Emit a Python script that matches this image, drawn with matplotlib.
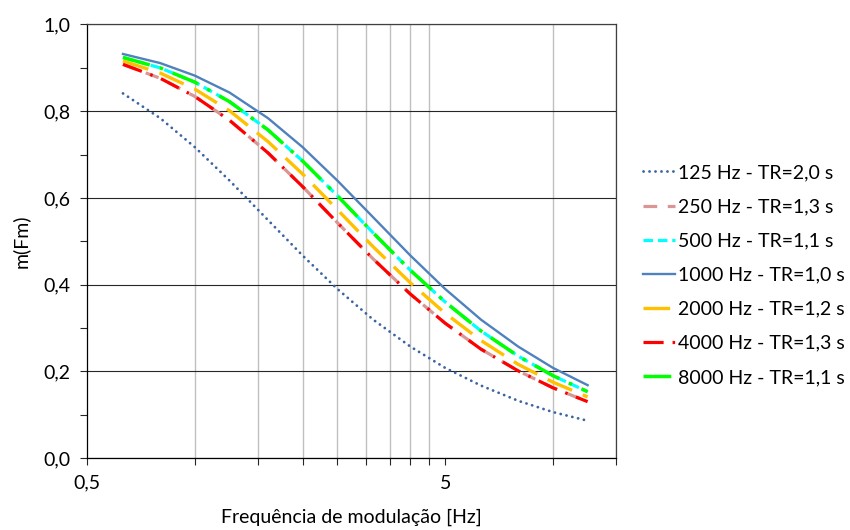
import numpy as np
import matplotlib
matplotlib.use("Agg")
import matplotlib.pyplot as plt
from matplotlib.ticker import FixedLocator, NullFormatter

plt.rcParams['font.family'] = ['Lato', 'DejaVu Sans']

# 1/3 octave modulation frequencies [Hz]
freq = [0.63, 0.8, 1.0, 1.25, 1.6, 2.0, 2.5, 3.15, 4.0, 5.0, 6.3, 8.0, 10.0, 12.5]

# m(Fm)
m_125 = [0.841, 0.784, 0.717, 0.640, 0.549, 0.467, 0.390, 0.319, 0.257, 0.208, 0.167, 0.132, 0.106, 0.086]
m_250 = [0.908, 0.876, 0.834, 0.779, 0.704, 0.626, 0.543, 0.459, 0.378, 0.311, 0.251, 0.201, 0.162, 0.130]
m_500 = [0.924, 0.900, 0.867, 0.822, 0.757, 0.685, 0.605, 0.519, 0.433, 0.360, 0.293, 0.235, 0.190, 0.153]
m_1000 = [0.932, 0.911, 0.882, 0.843, 0.784, 0.717, 0.640, 0.555, 0.467, 0.390, 0.319, 0.257, 0.208, 0.168]
m_2000 = [0.916, 0.888, 0.851, 0.801, 0.730, 0.655, 0.573, 0.487, 0.404, 0.334, 0.271, 0.216, 0.175, 0.141]
m_4000 = [0.908, 0.876, 0.834, 0.779, 0.704, 0.626, 0.543, 0.459, 0.378, 0.311, 0.251, 0.201, 0.162, 0.130]
m_8000 = [0.924, 0.900, 0.867, 0.822, 0.757, 0.685, 0.605, 0.519, 0.433, 0.360, 0.293, 0.235, 0.190, 0.153]

labels = ["125 Hz - TR=2,0 s", "250 Hz - TR=1,3 s", "500 Hz - TR=1,1 s",
          "1000 Hz - TR=1,0 s", "2000 Hz - TR=1,2 s", "4000 Hz - TR=1,3 s",
          "8000 Hz - TR=1,1 s"]

fig = plt.figure(figsize=(8.5, 5.3), dpi=100)
ax = fig.add_axes([0.1024, 0.1358, 0.6223, 0.8180])

ax.plot(freq, m_125, color='#3B64A0', lw=2.0, dashes=(0.05, 2.1), dash_capstyle='round', label=labels[0])
ax.plot(freq, m_250, color='#D99694', lw=2.3, dashes=(4.3, 3.3), label=labels[1])
ax.plot(freq, m_500, color='#00FFFF', lw=2.3, dashes=(3, 1.5), label=labels[2])
ax.plot(freq, m_1000, color='#4F81BD', lw=1.7, label=labels[3])
ax.plot(freq, m_2000, color='#FFC000', lw=2.4, dashes=(8, 3.5), label=labels[4])
ax.plot(freq, m_4000, color='#FF0000', lw=2.3, dashes=(6.3, 2.8, 0.8, 2.8), label=labels[5])
ax.plot(freq, m_8000, color='#00FF00', lw=2.5, dashes=(8, 3, 1, 3), label=labels[6])

ax.set_xscale('log')
ax.set_xlim(0.5, 15)
ax.set_ylim(0, 1.0)

ax.xaxis.set_major_locator(FixedLocator([0.5, 5]))
ax.xaxis.set_minor_locator(FixedLocator([1, 1.5, 2, 2.5, 3, 3.5, 4, 4.5, 10, 15]))
ax.set_xticklabels(["0,5", "5"])
ax.xaxis.set_minor_formatter(NullFormatter())

yt = [0.0, 0.2, 0.4, 0.6, 0.8, 1.0]
ax.set_yticks(yt)
ax.set_yticklabels([f"{v:.1f}".replace('.', ',') for v in yt])
ax.yaxis.set_minor_locator(FixedLocator([0.1, 0.3, 0.5, 0.7, 0.9]))

ax.grid(True, axis='x', which='minor', color='#c0c0c0', lw=1.0)
ax.grid(True, axis='y', which='major', color='#262626', lw=0.8)
ax.set_axisbelow(True)

ax.tick_params(axis='both', which='both', direction='out', length=5, width=0.8,
               color='#262626', labelsize=14, pad=7)

for s in ['left', 'bottom']:
    ax.spines[s].set_color('#000000')
    ax.spines[s].set_linewidth(0.9)
for s in ['top', 'right']:
    ax.spines[s].set_color('#404040')
    ax.spines[s].set_linewidth(0.9)

ax.set_xlabel("Frequência de modulação [Hz]", fontsize=14, labelpad=12)
ax.set_ylabel("m(Fm)", fontsize=14, labelpad=10)

fig.legend(loc='upper left', bbox_to_anchor=(0.757, 0.690), frameon=False,
           fontsize=14, handlelength=1.6, handletextpad=0.2,
           labelspacing=0.88, borderpad=0, borderaxespad=0)

fig.savefig("out.png", dpi=100)
